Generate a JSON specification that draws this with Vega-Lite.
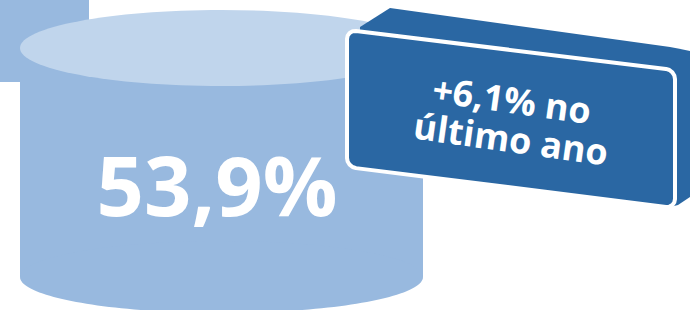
{
  "$schema": "https://vega.github.io/schema/vega-lite/v6.json",
  "width": 690,
  "height": 310,
  "padding": 0,
  "autosize": {"type": "none"},
  "background": "white",
  "config": {"view": {"stroke": null}},
  "datasets": {
    "square": [{"x": 0, "x2": 89, "y": 0, "y2": 82}],
    "body": [{"x": 20, "x2": 423, "y": 48, "y2": 277}],
    "bottomEllipse": [{"x": 221.5, "y": 277}],
    "topEllipse": [{"x": 221.5, "y": 48}],
    "share": [{"x": 217, "y": 216, "label": "53,9%"}],
    "badgeBack": [
      {"x": 360, "y": 27, "y2": 150},
      {"x": 390, "y": 8, "y2": 170},
      {"x": 670, "y": 47, "y2": 207},
      {"x": 678, "y": 48.5, "y2": 205},
      {"x": 690, "y": 51, "y2": 197}
    ],
    "badgeFront": [
      {"x": 347, "y": 39, "y2": 158},
      {"x": 347.68, "y": 35.64, "y2": 161.53},
      {"x": 349.64, "y": 32.96, "y2": 164.69},
      {"x": 352.56, "y": 31.36, "y2": 167.01},
      {"x": 356, "y": 31.1, "y2": 168.13},
      {"x": 666, "y": 68.92, "y2": 206.88},
      {"x": 669.44, "y": 70.02, "y2": 206.62},
      {"x": 672.36, "y": 72.34, "y2": 205.03},
      {"x": 674.32, "y": 75.49, "y2": 202.36},
      {"x": 675, "y": 79.02, "y2": 199}
    ],
    "badgeText": [
      {"x": 510, "y": 113, "label": "+6,1% no"},
      {"x": 509, "y": 152, "label": "último ano"}
    ]
  },
  "encoding": {
    "x": {"field": "x", "type": "quantitative", "axis": null, "scale": {"domain": [0, 690], "nice": false, "zero": false}},
    "y": {"field": "y", "type": "quantitative", "axis": null, "scale": {"domain": [0, 310], "nice": false, "zero": false, "reverse": true}}
  },
  "layer": [
    {
      "data": {"name": "square"},
      "mark": {"type": "rect", "color": "#98b9df"},
      "encoding": {"x2": {"field": "x2"}, "y2": {"field": "y2"}}
    },
    {
      "data": {"name": "body"},
      "mark": {"type": "rect", "color": "#98b9df"},
      "encoding": {"x2": {"field": "x2"}, "y2": {"field": "y2"}}
    },
    {
      "data": {"name": "bottomEllipse"},
      "mark": {
        "type": "point",
        "filled": true,
        "opacity": 1,
        "color": "#98b9df",
        "size": 162409,
        "shape": "M -1 0 C -1 -0.0987 -0.5523 -0.1787 0 -0.1787 C 0.5523 -0.1787 1 -0.0987 1 0 C 1 0.0987 0.5523 0.1787 0 0.1787 C -0.5523 0.1787 -1 0.0987 -1 0 Z"
      }
    },
    {
      "data": {"name": "topEllipse"},
      "mark": {
        "type": "point",
        "filled": true,
        "opacity": 1,
        "color": "#c0d5ec",
        "size": 162409,
        "shape": "M -1 0 C -1 -0.1042 -0.5523 -0.1886 0 -0.1886 C 0.5523 -0.1886 1 -0.1042 1 0 C 1 0.1042 0.5523 0.1886 0 0.1886 C -0.5523 0.1886 -1 0.1042 -1 0 Z"
      }
    },
    {
      "data": {"name": "share"},
      "mark": {"type": "text", "font": "Open Sans", "fontWeight": "bold", "fontSize": 83, "color": "white", "align": "center", "baseline": "alphabetic"},
      "encoding": {"text": {"field": "label"}}
    },
    {
      "data": {"name": "badgeBack"},
      "mark": {"type": "area", "color": "#2a67a3", "opacity": 1, "orient": "vertical"},
      "encoding": {"y2": {"field": "y2"}}
    },
    {
      "data": {"name": "badgeFront"},
      "mark": {"type": "area", "fill": "#2a67a3", "fillOpacity": 1, "stroke": "white", "strokeWidth": 4, "strokeJoin": "round", "orient": "vertical"},
      "encoding": {"y2": {"field": "y2"}}
    },
    {
      "data": {"name": "badgeText"},
      "mark": {"type": "text", "font": "Open Sans", "fontWeight": "bold", "fontSize": 36, "color": "white", "align": "center", "baseline": "alphabetic", "angle": 8},
      "encoding": {"text": {"field": "label"}}
    }
  ]
}
